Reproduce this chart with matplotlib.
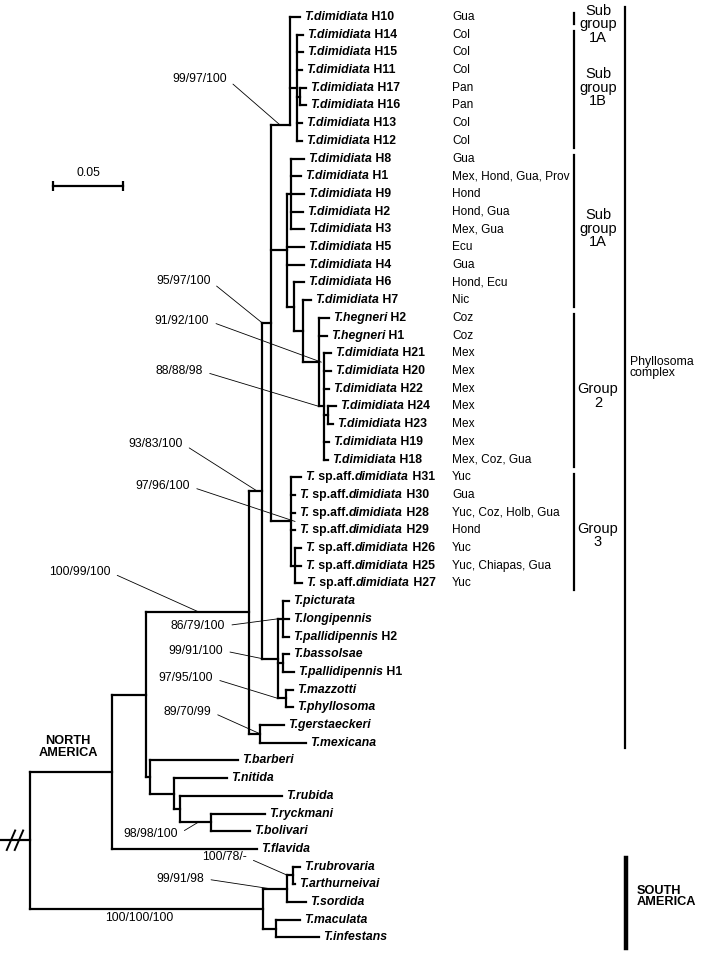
import matplotlib.pyplot as plt

plt.rcParams['font.family'] = 'Liberation Sans'

# ===== tree (newick), branch lengths in substitutions per site
newick = ("(((((((H10:0.0071,(H14:0.0043,H15:0.0043,H11:0.0036,"
          "(H17:0.0043,H16:0.0043):0.0021,H13:0.0036,H12:0.0036)B1:0.0050)N1:0.0136,"
          "((H8:0.0093,H1:0.0071,H9:0.0093,H2:0.0086,H3:0.0093):0.0029,"
          "H5:0.0121,H4:0.0121,(H6:0.0071,(H7:0.0057,(hH2:0.0071,hH1:0.0057,"
          "(H21:0.0050,H20:0.0050,H22:0.0036,(H24:0.0057,H23:0.0036):0.0029,"
          "H19:0.0036,H18:0.0029)G2:0.0036)HG:0.0114):0.0064):0.0050)Q:0.0114,"
          "(sH31:0.0071,sH30:0.0029,sH28:0.0029,sH29:0.0029,"
          "(sH26:0.0043,sH25:0.0043,sH27:0.0050):0.0029)G3:0.0143)P1:0.0064,"
          "((picturata:0.0043,longipennis:0.0043,pallH2:0.0043)PL:0.0036,"
          "(bassolsae:0.0043,pallH1:0.0079)BP:0.0036,"
          "(mazzotti:0.0050,phyllosoma:0.0050)MP:0.0057)PH:0.0114)P0:0.0093,"
          "(gerstaeckeri:0.0171,mexicana:0.0329)GM:0.0079)PC:0.0736,"
          "(barberi:0.0629,(nitida:0.0379,(rubida:0.0729,"
          "(ryckmani:0.0386,bolivari:0.0279)RyB:0.0221):0.0043):0.0171):0.0029):0.0243,"
          "flavida:0.1036):0.0586,"
          "(((rubrovaria:0.0050,arthurneivai:0.0014)RA:0.0043,sordida:0.0136)RAS:0.0171,"
          "(maculata:0.0171,infestans:0.0307):0.0093)SA:0.1664)root;")
root_stem = 0.0214
# rows where a node meets its parent, when the drawing does not use the midpoint
attach_row = {'N1': 6.1}

# ===== tip labels: (text, style) pieces, 'bi' = bold italic, 'b' = bold
dim = ['H10', 'H14', 'H15', 'H11', 'H17', 'H16', 'H13', 'H12', 'H8', 'H1', 'H9',
       'H2', 'H3', 'H5', 'H4', 'H6', 'H7', 'H21', 'H20', 'H22', 'H24', 'H23',
       'H19', 'H18']
aff = ['H31', 'H30', 'H28', 'H29', 'H26', 'H25', 'H27']
species = ['picturata', 'longipennis', 'bassolsae', 'mazzotti', 'phyllosoma',
           'gerstaeckeri', 'mexicana', 'barberi', 'nitida', 'rubida', 'ryckmani',
           'bolivari', 'flavida', 'rubrovaria', 'arthurneivai', 'sordida',
           'maculata', 'infestans']

labels = {}
for h in dim:
    labels[h] = [('T.dimidiata', 'bi'), (' ' + h, 'b')]
for h in aff:
    labels['s' + h] = [('T.', 'bi'), (' sp.aff.', 'b'), ('dimidiata', 'bi'), (' ' + h, 'b')]
for sp in species:
    labels[sp] = [('T.' + sp, 'bi')]
labels['hH2'] = [('T.hegneri', 'bi'), (' H2', 'b')]
labels['hH1'] = [('T.hegneri', 'bi'), (' H1', 'b')]
labels['pallH2'] = [('T.pallidipennis', 'bi'), (' H2', 'b')]
labels['pallH1'] = [('T.pallidipennis', 'bi'), (' H1', 'b')]

places = {'H10': 'Gua', 'H14': 'Col', 'H15': 'Col', 'H11': 'Col', 'H17': 'Pan',
          'H16': 'Pan', 'H13': 'Col', 'H12': 'Col', 'H8': 'Gua',
          'H1': 'Mex, Hond, Gua, Prov', 'H9': 'Hond', 'H2': 'Hond, Gua',
          'H3': 'Mex, Gua', 'H5': 'Ecu', 'H4': 'Gua', 'H6': 'Hond, Ecu', 'H7': 'Nic',
          'hH2': 'Coz', 'hH1': 'Coz', 'H21': 'Mex', 'H20': 'Mex', 'H22': 'Mex',
          'H24': 'Mex', 'H23': 'Mex', 'H19': 'Mex', 'H18': 'Mex, Coz, Gua',
          'sH31': 'Yuc', 'sH30': 'Gua', 'sH28': 'Yuc, Coz, Holb, Gua', 'sH29': 'Hond',
          'sH26': 'Yuc', 'sH25': 'Yuc, Chiapas, Gua', 'sH27': 'Yuc'}

# bootstrap support: text, node, position along branch, text offset (px)
support = [('99/97/100', 'N1', 0.47, (-53, 46)),
           ('95/97/100', 'P1', 0.05, (-52, 42)),
           ('91/92/100', 'HG', 1.15, (-112, 41)),
           ('88/88/98', 'G2', 0.0, (-116, 35)),
           ('93/83/100', 'P0', 0.6, (-74, 47)),
           ('97/96/100', 'G3', 1.2, (-105, 35)),
           ('100/99/100', 'PC', 0.52, (-89, 40)),
           ('86/79/100', 'PL', 0.0, (-53, -7)),
           ('99/91/100', 'PH', 0.0, (-39, 8)),
           ('97/95/100', 'MP', 0.0, (-65, 20)),
           ('89/70/99', 'GM', 1.0, (-49, 22)),
           ('98/98/100', 'RyB', 0.58, (-20, -12)),
           ('100/78/-', 'RA', 0.15, (-41, 18)),
           ('99/91/98', 'RAS', 0.3, (-66, 10))]

# groups: label, first tip, last tip, label shift (rows)
groups = [('Sub\ngroup\n1A', 'H10', 'H10', 0.3),
          ('Sub\ngroup\n1B', 'H14', 'H12', -0.1),
          ('Sub\ngroup\n1A', 'H8', 'H7', -0.15),
          ('Group\n2', 'hH2', 'H18', 0.3),
          ('Group\n3', 'sH31', 'sH27', 0.2)]


# ===== parse newick
def parse(s):
    pos = 0

    def node():
        nonlocal pos
        kids = []
        if s[pos] == '(':
            pos += 1
            while True:
                kids.append(node())
                if s[pos] == ',':
                    pos += 1
                else:
                    break
            pos += 1
        start = pos
        while s[pos] not in ',():;':
            pos += 1
        name = s[start:pos]
        bl = 0.0
        if s[pos] == ':':
            pos += 1
            start = pos
            while s[pos] not in ',();':
                pos += 1
            bl = float(s[start:pos])
        return {'name': name, 'kids': kids, 'bl': bl}
    return node()


tree = parse(newick)
tips = []
nodes = {}


def layout(n, x0):
    n['x'] = x0 + n['bl']
    n['px'] = x0
    if n['kids']:
        for k in n['kids']:
            layout(k, n['x'])
        n['y'] = (n['kids'][0]['y'] + n['kids'][-1]['y']) / 2
        n['y'] = attach_row.get(n['name'], n['y'])
    else:
        n['y'] = len(tips)
        tips.append(n)
    nodes[n['name']] = n


layout(tree, 0.0)
tip_y = {t['name']: t['y'] for t in tips}

# ===== drawing
fig = plt.figure(figsize=(7.04, 9.56), dpi=100)
ax = fig.add_axes([0, 0, 1, 1])
ax.set_xlim(-30 / 1400, 674 / 1400)
ax.set_ylim(53.05, -0.96)
ax.axis('off')

lw = 1.6
kw = dict(color='black', lw=lw, solid_capstyle='projecting')


def draw(n):
    if n['kids']:
        ys = [k['y'] for k in n['kids']] + [n['y']]
        ax.plot([n['x'], n['x']], [min(ys), max(ys)], **kw)
        for k in n['kids']:
            ax.plot([n['x'], k['x']], [k['y'], k['y']], **kw)
            draw(k)


draw(tree)
# root stem with break marks
ax.plot([tree['x'] - root_stem, tree['x']], [tree['y'], tree['y']], **kw)
for dx in (-0.0136, -0.0079):
    ax.plot([tree['x'] + dx - 0.003, tree['x'] + dx + 0.003],
            [tree['y'] + 0.55, tree['y'] - 0.55], color='black', lw=1.4)

# tip labels
fs_tip = 8.8
styles = {'bi': dict(fontweight='bold', fontstyle='italic'), 'b': dict(fontweight='bold')}
for t in tips:
    pieces = labels[t['name']]
    prev = None
    for txt, st in pieces:
        if prev is None:
            prev = ax.annotate(txt, xy=(t['x'], t['y']), xytext=(4, 0),
                               textcoords='offset pixels', va='center', ha='left',
                               fontsize=fs_tip, **styles[st])
        else:
            prev = ax.annotate(txt, xy=(1, 0.5), xycoords=prev, va='center',
                               ha='left', fontsize=fs_tip, **styles[st])
    if t['name'] in places:
        ax.text(422 / 1400, t['y'], places[t['name']], va='center', ha='left',
                fontsize=8.6)

# bootstrap values
for txt, nm, frac, off in support:
    n = nodes[nm]
    xe = n['px'] + frac * (n['x'] - n['px'])
    ax.annotate(txt, xy=(xe, n['y']), xytext=off, textcoords='offset pixels',
                ha='right', va='center', fontsize=8.8,
                arrowprops=dict(arrowstyle='-', lw=0.6, color='black',
                                shrinkA=3, shrinkB=0, relpos=(1, 0.5)))
sa = nodes['SA']
ax.text((sa['px'] + sa['x']) / 2 - 0.005, sa['y'] + 0.55, '100/100/100',
        ha='center', va='center', fontsize=8.8)

# scale bar
ax.plot([0.0164, 0.0164 + 0.05], [9.55, 9.55], color='black', lw=lw,
        marker='|', ms=7, mew=lw)
ax.text(0.0164 + 0.025, 8.8, '0.05', ha='center', va='center', fontsize=8.8)

# group bars
bar_x = 544 / 1400
for lab, a, b, shift in groups:
    y0, y1 = tip_y[a] - 0.2, tip_y[b] + 0.4
    ax.plot([bar_x, bar_x], [y0, y1], color='black', lw=1.6)
    ax.text(568 / 1400, (y0 + y1) / 2 + shift, lab, ha='center', va='center',
            fontsize=10.5, linespacing=0.95)

ax.plot([595 / 1400] * 2, [tip_y['H10'] - 0.55, tip_y['mexicana'] + 0.3],
        color='black', lw=1.6)
ax.text(600 / 1400, 19.8, 'Phyllosoma\ncomplex', ha='left', va='center',
        fontsize=8.8, linespacing=0.95)

ax.plot([596 / 1400] * 2, [tip_y['rubrovaria'] - 0.5, tip_y['infestans'] + 0.6],
        color='black', lw=3.2)
ax.text(607 / 1400, 49.7, 'SOUTH\nAMERICA', ha='left', va='center',
        fontsize=9.2, fontweight='bold', linespacing=0.95)
ax.text(38 / 1400, 41.25, 'NORTH\nAMERICA', ha='center', va='center',
        fontsize=9.2, fontweight='bold', linespacing=0.95)

fig.savefig('out.png', dpi=100)
